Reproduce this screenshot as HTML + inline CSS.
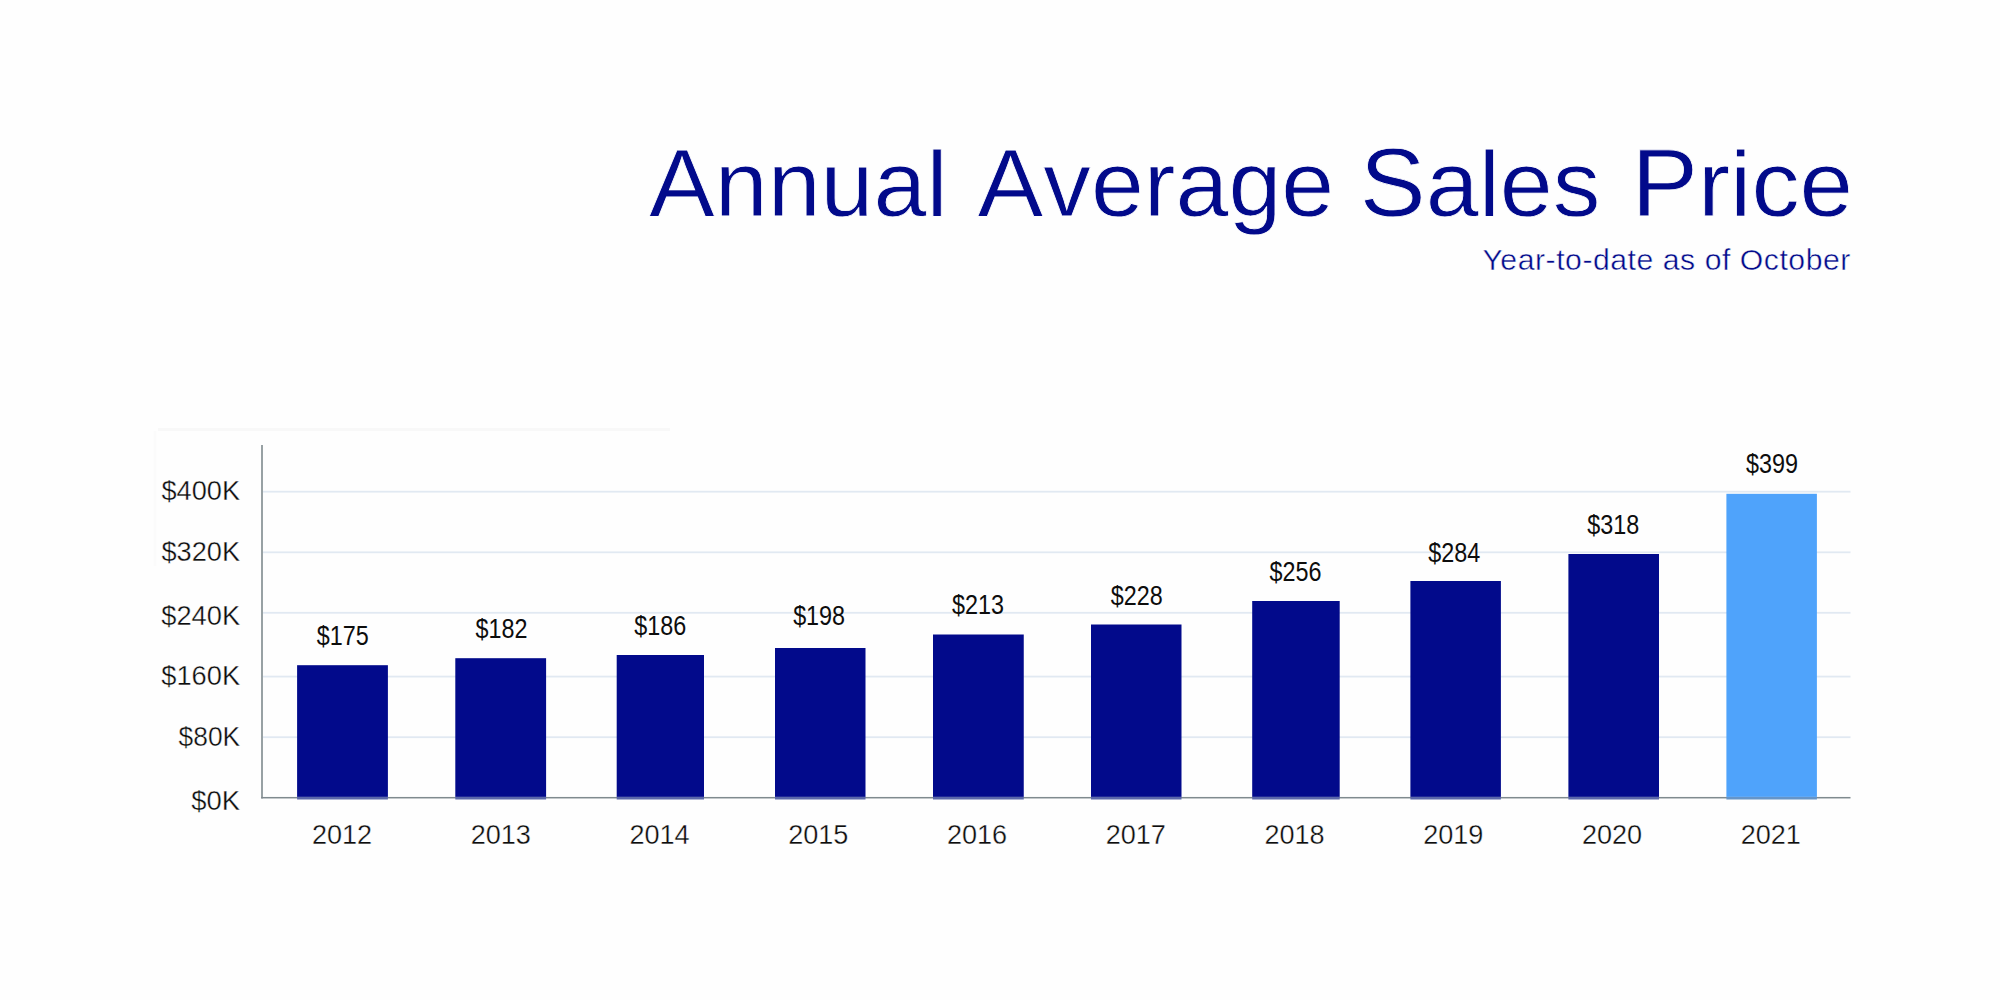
<!DOCTYPE html>
<html lang="en">
<head>
<meta charset="utf-8">
<title>Annual Average Sales Price</title>
<style>
html,body{margin:0;padding:0;background:#fefefe;}
body{width:2000px;height:1000px;overflow:hidden;position:relative;font-family:"Liberation Sans",sans-serif;}
svg{position:absolute;left:0;top:0;display:block;}
text{font-family:"Liberation Sans",sans-serif;}
/* a thin background-coloured stroke slims the glyphs to imitate the light weight of the original face */
.title{font-size:92.5px;fill:#020a8b;stroke:#fefefe;stroke-width:0.8px;}
.cap{font-size:96px;}
.sub{font-size:30.2px;fill:#020a8b;stroke:#fefefe;stroke-width:0.45px;}
.ax{font-size:28px;fill:#0d0d0d;stroke:#fefefe;stroke-width:0.35px;}
.val{font-size:27.3px;fill:#0d0d0d;}
</style>
</head>
<body>
<svg width="2000" height="1000" viewBox="0 0 2000 1000">
<rect x="0" y="0" width="2000" height="1000" fill="#fefefe"/>
<!-- faint artefact edges present in the reference -->
<rect x="158" y="428" width="512" height="3" fill="#f8f8f8"/>
<rect x="153.5" y="431" width="3" height="135" fill="#fbfbfb"/>
<!-- heading -->
<g class="title">
<text transform="translate(648.97 216) scale(1.0283 1)"><tspan class="cap">A</tspan>nnual</text>
<text transform="translate(977.46 216) scale(1.0286 1)"><tspan class="cap">A</tspan>verage</text>
<text transform="translate(1359.84 216) scale(1.0290 1)"><tspan class="cap">S</tspan>ales</text>
<text transform="translate(1631.45 216) scale(1.0400 1)"><tspan class="cap">P</tspan>rice</text>
</g>
<text class="sub" x="1482.4" y="269.9" textLength="368" lengthAdjust="spacing">Year-to-date as of October</text>
<!-- gridlines -->
<rect x="262.8" y="736.30" width="1587.7" height="1.8" fill="#e1e9f2"/>
<rect x="262.8" y="675.70" width="1587.7" height="1.8" fill="#e1e9f2"/>
<rect x="262.8" y="611.90" width="1587.7" height="1.8" fill="#e1e9f2"/>
<rect x="262.8" y="551.40" width="1587.7" height="1.8" fill="#e1e9f2"/>
<rect x="262.8" y="490.80" width="1587.7" height="1.8" fill="#e1e9f2"/>
<!-- axes -->
<rect x="261.20" y="445" width="1.6" height="353.45" fill="#7f8a8e"/>
<rect x="261.20" y="796.95" width="1589.30" height="1.5" fill="#7f8a8e"/>
<!-- bars -->
<rect x="297.10" y="665.20" width="90.80" height="131.70" fill="#020a8b"/>
<rect x="297.10" y="796.90" width="90.80" height="2.60" fill="#5b68aa"/>
<rect x="455.30" y="658.20" width="90.80" height="138.70" fill="#020a8b"/>
<rect x="455.30" y="796.90" width="90.80" height="2.60" fill="#5b68aa"/>
<rect x="616.70" y="655.00" width="87.30" height="141.90" fill="#020a8b"/>
<rect x="616.70" y="796.90" width="87.30" height="2.60" fill="#5b68aa"/>
<rect x="775.00" y="648.00" width="90.50" height="148.90" fill="#020a8b"/>
<rect x="775.00" y="796.90" width="90.50" height="2.60" fill="#5b68aa"/>
<rect x="933.00" y="634.50" width="90.75" height="162.40" fill="#020a8b"/>
<rect x="933.00" y="796.90" width="90.75" height="2.60" fill="#5b68aa"/>
<rect x="1091.00" y="624.50" width="90.50" height="172.40" fill="#020a8b"/>
<rect x="1091.00" y="796.90" width="90.50" height="2.60" fill="#5b68aa"/>
<rect x="1252.20" y="601.00" width="87.50" height="195.90" fill="#020a8b"/>
<rect x="1252.20" y="796.90" width="87.50" height="2.60" fill="#5b68aa"/>
<rect x="1410.40" y="581.00" width="90.50" height="215.90" fill="#020a8b"/>
<rect x="1410.40" y="796.90" width="90.50" height="2.60" fill="#5b68aa"/>
<rect x="1568.40" y="554.00" width="90.60" height="242.90" fill="#020a8b"/>
<rect x="1568.40" y="796.90" width="90.60" height="2.60" fill="#5b68aa"/>
<rect x="1726.40" y="493.80" width="90.50" height="303.10" fill="#4fa3fb"/>
<rect x="1726.40" y="796.90" width="90.50" height="2.60" fill="#6595c8"/>
<!-- y axis labels -->
<text class="ax" x="240.1" y="810.05" text-anchor="end" textLength="48.8" lengthAdjust="spacingAndGlyphs">$0K</text>
<text class="ax" x="240.1" y="745.80" text-anchor="end" textLength="61.5" lengthAdjust="spacingAndGlyphs">$80K</text>
<text class="ax" x="240.1" y="685.10" text-anchor="end" textLength="78.8" lengthAdjust="spacingAndGlyphs">$160K</text>
<text class="ax" x="240.1" y="625.10" text-anchor="end" textLength="78.8" lengthAdjust="spacingAndGlyphs">$240K</text>
<text class="ax" x="240.1" y="561.30" text-anchor="end" textLength="78.6" lengthAdjust="spacingAndGlyphs">$320K</text>
<text class="ax" x="240.1" y="500.30" text-anchor="end" textLength="78.6" lengthAdjust="spacingAndGlyphs">$400K</text>
<!-- year labels and value labels -->
<text class="ax" x="342.00" y="844.2" text-anchor="middle" textLength="60.2" lengthAdjust="spacingAndGlyphs">2012</text>
<text class="val" x="342.70" y="644.75" text-anchor="middle" textLength="52" lengthAdjust="spacingAndGlyphs">$175</text>
<text class="ax" x="500.75" y="844.2" text-anchor="middle" textLength="60.2" lengthAdjust="spacingAndGlyphs">2013</text>
<text class="val" x="501.51" y="637.70" text-anchor="middle" textLength="52" lengthAdjust="spacingAndGlyphs">$182</text>
<text class="ax" x="659.50" y="844.2" text-anchor="middle" textLength="60.2" lengthAdjust="spacingAndGlyphs">2014</text>
<text class="val" x="660.32" y="634.70" text-anchor="middle" textLength="52" lengthAdjust="spacingAndGlyphs">$186</text>
<text class="ax" x="818.25" y="844.2" text-anchor="middle" textLength="60.2" lengthAdjust="spacingAndGlyphs">2015</text>
<text class="val" x="819.13" y="624.80" text-anchor="middle" textLength="52" lengthAdjust="spacingAndGlyphs">$198</text>
<text class="ax" x="977.00" y="844.2" text-anchor="middle" textLength="60.2" lengthAdjust="spacingAndGlyphs">2016</text>
<text class="val" x="977.94" y="614.20" text-anchor="middle" textLength="52" lengthAdjust="spacingAndGlyphs">$213</text>
<text class="ax" x="1135.75" y="844.2" text-anchor="middle" textLength="60.2" lengthAdjust="spacingAndGlyphs">2017</text>
<text class="val" x="1136.75" y="604.80" text-anchor="middle" textLength="52" lengthAdjust="spacingAndGlyphs">$228</text>
<text class="ax" x="1294.50" y="844.2" text-anchor="middle" textLength="60.2" lengthAdjust="spacingAndGlyphs">2018</text>
<text class="val" x="1295.56" y="581.30" text-anchor="middle" textLength="52" lengthAdjust="spacingAndGlyphs">$256</text>
<text class="ax" x="1453.25" y="844.2" text-anchor="middle" textLength="60.2" lengthAdjust="spacingAndGlyphs">2019</text>
<text class="val" x="1454.37" y="561.50" text-anchor="middle" textLength="52" lengthAdjust="spacingAndGlyphs">$284</text>
<text class="ax" x="1612.00" y="844.2" text-anchor="middle" textLength="60.2" lengthAdjust="spacingAndGlyphs">2020</text>
<text class="val" x="1613.18" y="534.00" text-anchor="middle" textLength="52" lengthAdjust="spacingAndGlyphs">$318</text>
<text class="ax" x="1770.75" y="844.2" text-anchor="middle" textLength="60.2" lengthAdjust="spacingAndGlyphs">2021</text>
<text class="val" x="1771.99" y="473.00" text-anchor="middle" textLength="52" lengthAdjust="spacingAndGlyphs">$399</text>
</svg>
</body>
</html>
